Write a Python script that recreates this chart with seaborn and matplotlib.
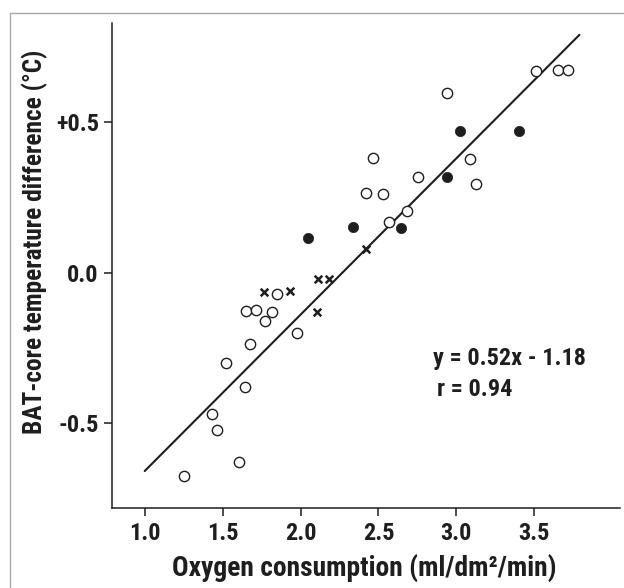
import numpy as np
import pandas as pd
import matplotlib
matplotlib.use("Agg")
import matplotlib.pyplot as plt
import seaborn as sns
from matplotlib import font_manager
from matplotlib.lines import Line2D

# open circles
open_x = [3.51, 3.655, 3.715, 2.942, 2.466, 3.089, 2.751, 3.126, 2.423, 2.530, 2.683, 2.565,
          1.852, 1.650, 1.716, 1.817, 1.774, 1.974, 1.674, 1.519, 1.643, 1.434, 1.466, 1.605, 1.251]
open_y = [0.672, 0.673, 0.673, 0.596, 0.380, 0.379, 0.317, 0.295, 0.265, 0.260, 0.206, 0.168,
          -0.070, -0.128, -0.124, -0.132, -0.162, -0.200, -0.238, -0.302, -0.382, -0.472, -0.522, -0.629, -0.675]
# filled circles
filled_x = [3.025, 3.404, 2.942, 2.338, 2.644, 2.051]
filled_y = [0.470, 0.472, 0.319, 0.151, 0.148, 0.115]
# crosses
cross_x = [2.417, 1.766, 1.931, 2.115, 2.183, 2.104]
cross_y = [0.080, -0.066, -0.062, -0.020, -0.020, -0.131]

# regression
slope = 0.52
intercept = -1.18
fit_x = [1.0, 3.79]

xticks = [1.0, 1.5, 2.0, 2.5, 3.0, 3.5]
xtick_labels = ["1.0", "1.5", "2.0", "2.5", "3.0", "3.5"]
yticks = [-0.5, 0.0, 0.5]
ytick_labels = ["-0.5", "0.0", "+0.5"]

sns.set_style("ticks")
# a narrow bold face if there is one, else plain Liberation Sans
names = {f.name for f in font_manager.fontManager.ttflist}
fam = "Liberation Sans"
k = 0.82
for cand in ["Liberation Sans Narrow", "Roboto Condensed", "Open Sans Condensed"]:
    if cand in names:
        fam = cand
        k = 1.0
        break
plt.rcParams["font.family"] = [fam, "DejaVu Sans"]
plt.rcParams["font.weight"] = "bold"

ink = "#1e1e1e"
fig = plt.figure(figsize=(6.24, 5.88), dpi=100)
ax = fig.add_axes([112 / 624, 1 - 508 / 588, 508 / 624, 485 / 588])

sns.scatterplot(x=open_x, y=open_y, ax=ax, marker="o", s=55, facecolor="white",
                edgecolor=ink, linewidth=1.0, zorder=3)
sns.scatterplot(x=filled_x, y=filled_y, ax=ax, marker="o", s=55, color=ink,
                edgecolor=ink, linewidth=0.5, zorder=3)
sns.scatterplot(x=cross_x, y=cross_y, ax=ax, marker="x", s=30, color=ink,
                linewidth=1.8, zorder=3)

fit_y = [slope * v + intercept for v in fit_x]
sns.lineplot(x=fit_x, y=fit_y, ax=ax, color=ink, linewidth=1.5, zorder=2)

ax.set_xlim(0.79, 4.05)
ax.set_ylim(-0.783, 0.83)
ax.set_xticks(xticks)
ax.set_xticklabels(xtick_labels)
ax.set_yticks(yticks)
ax.set_yticklabels(ytick_labels)
sns.despine(ax=ax)
for s in ["left", "bottom"]:
    ax.spines[s].set_linewidth(1.1)
    ax.spines[s].set_color(ink)
ax.tick_params(direction="out", length=5.5, width=1.1, color=ink,
               labelsize=17.5 * k, labelcolor=ink)
ax.tick_params(axis="x", pad=4.5)
ax.tick_params(axis="y", pad=4)

ax.set_xlabel("Oxygen consumption (ml/dm²/min)", fontsize=19.8 * k, fontweight="bold", color=ink)
ax.set_ylabel("BAT-core temperature difference (°C)", fontsize=18.3 * k, fontweight="bold", color=ink)
ax.xaxis.set_label_coords(0.497, -0.095)
ax.yaxis.set_label_coords(-0.125, 0.548)

ax.text(2.85, -0.307, "y = 0.52x - 1.18", fontsize=17.5 * k, fontweight="bold", color=ink)
ax.text(2.875, -0.412, "r = 0.94", fontsize=17.5 * k, fontweight="bold", color=ink)

# thin grey frame round the picture
fig.add_artist(Line2D([10 / 624, 10 / 624], [0, 1 - 12.5 / 588], transform=fig.transFigure,
                      color="#a8a8a8", linewidth=1.0))
fig.add_artist(Line2D([10 / 624, 1], [1 - 12.5 / 588, 1 - 12.5 / 588], transform=fig.transFigure,
                      color="#a8a8a8", linewidth=1.0))

fig.savefig("out.png", dpi=100)
